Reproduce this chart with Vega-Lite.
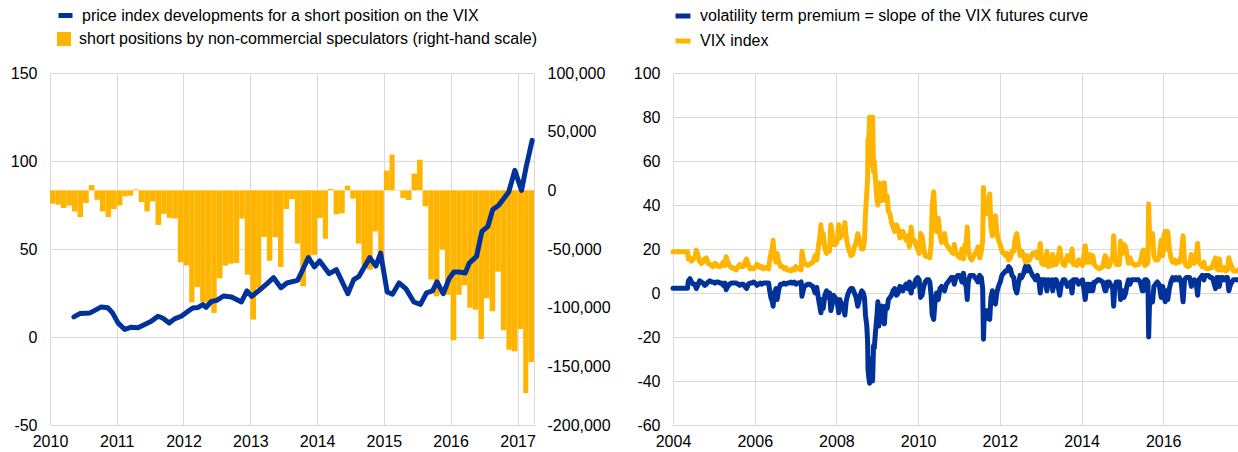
{
  "$schema": "https://vega.github.io/schema/vega-lite/v6.json",
  "background": "white",
  "padding": {"left": 10, "top": 6, "right": 0, "bottom": 0},
  "config": {
    "font": "Liberation Sans",
    "view": {"stroke": null},
    "axis": {"labelFont": "Liberation Sans", "labelFontSize": 16, "labelColor": "#000000", "gridColor": "#d9d9d9", "gridWidth": 1, "domain": false, "ticks": false, "title": null, "labelPadding": 13},
    "legend": {"labelFont": "Liberation Sans", "labelFontSize": 16, "labelColor": "#000000", "title": null, "labelLimit": 800}
  },
  "bounds": "flush",
  "spacing": 139,
  "resolve": {"scale": {"x": "independent", "y": "independent", "stroke": "independent", "fill": "independent"}, "legend": {"stroke": "independent", "fill": "independent"}},
  "hconcat": [
    {
      "width": 484,
      "height": 352,
      "layer": [
        {
          "data": {"values": [
            {"a":"2010-01-01","b":"2010-02-01","s":-11400},{"a":"2010-02-01","b":"2010-03-01","s":-12200},{"a":"2010-03-01","b":"2010-04-01","s":-15000},{"a":"2010-04-01","b":"2010-05-01","s":-13000},{"a":"2010-05-01","b":"2010-06-01","s":-18000},{"a":"2010-06-01","b":"2010-07-01","s":-22700},{"a":"2010-07-01","b":"2010-08-01","s":-10800},{"a":"2010-08-01","b":"2010-09-01","s":4500},{"a":"2010-09-01","b":"2010-10-01","s":-8000},{"a":"2010-10-01","b":"2010-11-01","s":-18000},{"a":"2010-11-01","b":"2010-12-01","s":-22700},{"a":"2010-12-01","b":"2011-01-01","s":-16000},
            {"a":"2011-01-01","b":"2011-02-01","s":-13000},{"a":"2011-02-01","b":"2011-03-01","s":-5100},{"a":"2011-03-01","b":"2011-04-01","s":-4500},{"a":"2011-04-01","b":"2011-05-01","s":800},{"a":"2011-05-01","b":"2011-06-01","s":-10000},{"a":"2011-06-01","b":"2011-07-01","s":-18000},{"a":"2011-07-01","b":"2011-08-01","s":-9400},{"a":"2011-08-01","b":"2011-09-01","s":-29500},{"a":"2011-09-01","b":"2011-10-01","s":-20000},{"a":"2011-10-01","b":"2011-11-01","s":-23500},{"a":"2011-11-01","b":"2011-12-01","s":-24000},{"a":"2011-12-01","b":"2012-01-01","s":-61300},
            {"a":"2012-01-01","b":"2012-02-01","s":-64000},{"a":"2012-02-01","b":"2012-03-01","s":-95400},{"a":"2012-03-01","b":"2012-04-01","s":-82400},{"a":"2012-04-01","b":"2012-05-01","s":-95400},{"a":"2012-05-01","b":"2012-06-01","s":-97000},{"a":"2012-06-01","b":"2012-07-01","s":-104500},{"a":"2012-07-01","b":"2012-08-01","s":-75000},{"a":"2012-08-01","b":"2012-09-01","s":-64200},{"a":"2012-09-01","b":"2012-10-01","s":-62500},{"a":"2012-10-01","b":"2012-11-01","s":-62000},{"a":"2012-11-01","b":"2012-12-01","s":-24100},{"a":"2012-12-01","b":"2013-01-01","s":-71900},
            {"a":"2013-01-01","b":"2013-02-01","s":-110000},{"a":"2013-02-01","b":"2013-03-01","s":-83000},{"a":"2013-03-01","b":"2013-04-01","s":-39800},{"a":"2013-04-01","b":"2013-05-01","s":-60000},{"a":"2013-05-01","b":"2013-06-01","s":-39800},{"a":"2013-06-01","b":"2013-07-01","s":-65300},{"a":"2013-07-01","b":"2013-08-01","s":-15900},{"a":"2013-08-01","b":"2013-09-01","s":-7400},{"a":"2013-09-01","b":"2013-10-01","s":-45400},{"a":"2013-10-01","b":"2013-11-01","s":-81800},{"a":"2013-11-01","b":"2013-12-01","s":-60000},{"a":"2013-12-01","b":"2014-01-01","s":-55000},
            {"a":"2014-01-01","b":"2014-02-01","s":-23600},{"a":"2014-02-01","b":"2014-03-01","s":-41200},{"a":"2014-03-01","b":"2014-04-01","s":1100},{"a":"2014-04-01","b":"2014-05-01","s":-20400},{"a":"2014-05-01","b":"2014-06-01","s":-19600},{"a":"2014-06-01","b":"2014-07-01","s":4000},{"a":"2014-07-01","b":"2014-08-01","s":-7100},{"a":"2014-08-01","b":"2014-09-01","s":-45400},{"a":"2014-09-01","b":"2014-10-01","s":-64700},{"a":"2014-10-01","b":"2014-11-01","s":-67600},{"a":"2014-11-01","b":"2014-12-01","s":-35000},{"a":"2014-12-01","b":"2015-01-01","s":-63000},
            {"a":"2015-01-01","b":"2015-02-01","s":16800},{"a":"2015-02-01","b":"2015-03-01","s":30500},{"a":"2015-03-01","b":"2015-04-01","s":-300},{"a":"2015-04-01","b":"2015-05-01","s":-6500},{"a":"2015-05-01","b":"2015-06-01","s":-8200},{"a":"2015-06-01","b":"2015-07-01","s":14200},{"a":"2015-07-01","b":"2015-08-01","s":26100},{"a":"2015-08-01","b":"2015-09-01","s":-13600},{"a":"2015-09-01","b":"2015-10-01","s":-76000},{"a":"2015-10-01","b":"2015-11-01","s":-90300},{"a":"2015-11-01","b":"2015-12-01","s":-50500},{"a":"2015-12-01","b":"2016-01-01","s":-89000},
            {"a":"2016-01-01","b":"2016-02-01","s":-127800},{"a":"2016-02-01","b":"2016-03-01","s":-89000},{"a":"2016-03-01","b":"2016-04-01","s":-81000},{"a":"2016-04-01","b":"2016-05-01","s":-100000},{"a":"2016-05-01","b":"2016-06-01","s":-101700},{"a":"2016-06-01","b":"2016-07-01","s":-126700},{"a":"2016-07-01","b":"2016-08-01","s":-92000},{"a":"2016-08-01","b":"2016-09-01","s":-103000},{"a":"2016-09-01","b":"2016-10-01","s":-69300},{"a":"2016-10-01","b":"2016-11-01","s":-119300},{"a":"2016-11-01","b":"2016-12-01","s":-135800},{"a":"2016-12-01","b":"2017-01-01","s":-137200},
            {"a":"2017-01-01","b":"2017-02-01","s":-118100},{"a":"2017-02-01","b":"2017-03-01","s":-172700},{"a":"2017-03-01","b":"2017-04-01","s":-146300}
          ]},
          "mark": {"type": "bar", "strokeWidth": 0},
          "encoding": {
            "x": {"field": "a", "type": "temporal", "scale": {"type": "utc", "domain": [{"year": 2010, "month": 1, "date": 1, "utc": true}, {"year": 2017, "month": 4, "date": 1, "utc": true}]}, "axis": {"format": "%Y", "tickCount": {"interval": "year", "step": 1}, "grid": true, "labelPadding": 8, "labelFlush": false}},
            "x2": {"field": "b"},
            "y": {"field": "s", "type": "quantitative", "scale": {"domain": [-200000, 100000], "nice": false, "zero": true}, "axis": {"orient": "right", "values": [-200000, -150000, -100000, -50000, 0, 50000, 100000], "grid": false, "domain": true, "domainColor": "#d9d9d9", "labelExpr": "replace(datum.label, '\u2212', '-')"}},
            "y2": {"datum": 0},
            "fill": {"datum": "short positions by non-commercial speculators (right-hand scale)", "scale": {"range": ["#FFB400"]}, "legend": {"orient": "none", "legendX": 6, "legendY": -42, "direction": "vertical", "symbolType": "square", "symbolSize": 196, "symbolStrokeWidth": 0, "labelOffset": 7}}
          }
        },
        {
          "data": {"values": [
            {"d":"2010-05-12","p":11.4},{"d":"2010-06-13","p":13.3},{"d":"2010-08-08","p":13.7},{"d":"2010-09-01","p":15},{"d":"2010-10-08","p":17.1},{"d":"2010-11-13","p":16.6},{"d":"2010-12-09","p":13.7},
            {"d":"2011-01-08","p":8.0},{"d":"2011-02-14","p":4.3},{"d":"2011-03-22","p":5.6},{"d":"2011-04-27","p":5.2},{"d":"2011-06-03","p":7.1},{"d":"2011-07-09","p":9.0},{"d":"2011-08-14","p":11.8},{"d":"2011-09-09","p":10.8},{"d":"2011-10-15","p":8.0},{"d":"2011-11-13","p":10.3},{"d":"2011-12-20","p":11.8},
            {"d":"2012-01-26","p":14.6},{"d":"2012-02-21","p":16.5},{"d":"2012-03-21","p":16.8},{"d":"2012-04-16","p":18.4},{"d":"2012-05-04","p":16.8},{"d":"2012-06-02","p":20.2},{"d":"2012-07-01","p":20.8},{"d":"2012-08-07","p":23.3},{"d":"2012-09-20","p":22.7},{"d":"2012-11-13","p":19.9},{"d":"2012-12-13","p":26.2},
            {"d":"2013-01-08","p":23.1},{"d":"2013-02-25","p":27.1},{"d":"2013-04-02","p":30.3},{"d":"2013-05-08","p":33.7},{"d":"2013-06-17","p":28.0},{"d":"2013-07-20","p":30.7},{"d":"2013-09-16","p":32.2},{"d":"2013-10-08","p":36.9},{"d":"2013-11-14","p":45.1},{"d":"2013-12-17","p":39.8},
            {"d":"2014-01-15","p":43.2},{"d":"2014-03-08","p":36.0},{"d":"2014-04-16","p":38.3},{"d":"2014-06-18","p":24.6},{"d":"2014-07-20","p":32.6},{"d":"2014-08-18","p":34.5},{"d":"2014-10-16","p":45.1},{"d":"2014-11-18","p":40.3},{"d":"2014-12-14","p":47.7},
            {"d":"2015-01-19","p":25.6},{"d":"2015-02-17","p":24.3},{"d":"2015-03-25","p":30.7},{"d":"2015-05-01","p":27.5},{"d":"2015-06-14","p":19.9},{"d":"2015-07-20","p":18.5},{"d":"2015-08-22","p":25.1},{"d":"2015-09-24","p":26.2},{"d":"2015-10-19","p":31.3},{"d":"2015-11-21","p":24.6},{"d":"2015-12-24","p":33.2},
            {"d":"2016-01-19","p":36.9},{"d":"2016-02-17","p":36.9},{"d":"2016-03-21","p":36.4},{"d":"2016-04-12","p":42.0},{"d":"2016-05-22","p":45.8},{"d":"2016-06-20","p":60.0},{"d":"2016-07-23","p":62.9},{"d":"2016-08-18","p":72.3},{"d":"2016-09-20","p":74.8},{"d":"2016-11-14","p":82.4},{"d":"2016-12-17","p":94.7},
            {"d":"2017-01-23","p":83.3},{"d":"2017-02-17","p":96.6},{"d":"2017-03-22","p":111.7}
          ]},
          "mark": {"type": "line", "strokeWidth": 5, "strokeJoin": "round", "strokeCap": "round"},
          "encoding": {
            "x": {"field": "d", "type": "temporal"},
            "y": {"field": "p", "type": "quantitative", "scale": {"domain": [-50, 150], "nice": false}, "axis": {"orient": "left", "values": [-50, 0, 50, 100, 150], "grid": true, "labelExpr": "replace(datum.label, '\u2212', '-')"}},
            "stroke": {"datum": "price index developments for a short position on the VIX", "scale": {"range": ["#003299"]}, "legend": {"orient": "none", "legendX": 6, "legendY": -67, "direction": "vertical", "symbolType": "stroke", "symbolSize": 196, "symbolStrokeWidth": 5, "labelOffset": 7}}
          }
        }
      ],
      "resolve": {"scale": {"y": "independent"}}
    },
    {
      "width": 565,
      "height": 352,
      "data": {"values": [
        {"d":"2004-01-01","v":18.7,"t":2.2},{"d":"2004-05-10","v":18.7,"t":2.2},{"d":"2004-05-17","v":15.5,"t":5.5},{"d":"2004-06-01","v":16,"t":6.5},{"d":"2004-06-15","v":14.5,"t":5},{"d":"2004-07-01","v":15.5,"t":4},{"d":"2004-07-15","v":16,"t":4},{"d":"2004-07-27","v":19.5,"t":2},{"d":"2004-08-10","v":17.5,"t":3.5},{"d":"2004-08-25","v":14.5,"t":5.5},{"d":"2004-09-10","v":13.5,"t":5},{"d":"2004-09-25","v":14,"t":4.5},{"d":"2004-10-10","v":15.5,"t":3.5},{"d":"2004-10-25","v":16,"t":4},{"d":"2004-11-10","v":13.5,"t":5},{"d":"2004-11-25","v":13,"t":5.5},{"d":"2004-12-10","v":12.5,"t":5},{"d":"2004-12-24","v":12,"t":5},
        {"d":"2005-01-10","v":13.5,"t":4.5},{"d":"2005-01-25","v":13,"t":5},{"d":"2005-02-10","v":12,"t":5},{"d":"2005-02-25","v":12,"t":4.5},{"d":"2005-03-10","v":12.5,"t":4.5},{"d":"2005-03-25","v":14,"t":3.5},{"d":"2005-04-10","v":12.5,"t":4.5},{"d":"2005-04-20","v":16.5,"t":1.5},{"d":"2005-05-05","v":14,"t":3},{"d":"2005-05-20","v":12.5,"t":4},{"d":"2005-06-05","v":11.5,"t":4.5},{"d":"2005-06-20","v":11.5,"t":4.5},{"d":"2005-07-05","v":11,"t":4.5},{"d":"2005-07-20","v":10.5,"t":4.5},{"d":"2005-08-05","v":12,"t":4},{"d":"2005-08-20","v":13,"t":3.5},{"d":"2005-09-05","v":12,"t":4},{"d":"2005-09-20","v":12,"t":4},{"d":"2005-10-05","v":14,"t":3},{"d":"2005-10-20","v":15.5,"t":2},{"d":"2005-11-05","v":12.5,"t":4},{"d":"2005-11-20","v":11,"t":4.5},{"d":"2005-12-05","v":11.5,"t":4.5},{"d":"2005-12-20","v":11,"t":5},
        {"d":"2006-01-05","v":11.5,"t":4.5},{"d":"2006-01-20","v":13,"t":3.5},{"d":"2006-02-05","v":12.5,"t":4},{"d":"2006-02-20","v":11.5,"t":4.5},{"d":"2006-03-05","v":12,"t":4},{"d":"2006-03-20","v":11,"t":4.5},{"d":"2006-04-05","v":11.5,"t":4.5},{"d":"2006-04-20","v":11.5,"t":4.5},{"d":"2006-05-05","v":11,"t":4.5},{"d":"2006-05-15","v":15,"t":1},{"d":"2006-05-25","v":18,"t":-2},{"d":"2006-06-08","v":21,"t":-4},{"d":"2006-06-14","v":24,"t":-6},{"d":"2006-06-25","v":17,"t":0},{"d":"2006-07-10","v":14,"t":2},{"d":"2006-07-20","v":18,"t":-3},{"d":"2006-08-05","v":14,"t":2},{"d":"2006-08-20","v":12,"t":4},{"d":"2006-09-05","v":12,"t":4},{"d":"2006-09-20","v":11,"t":4.5},{"d":"2006-10-05","v":11.5,"t":4},{"d":"2006-10-20","v":10.5,"t":4.5},{"d":"2006-11-05","v":10.5,"t":4.5},{"d":"2006-11-20","v":10,"t":5},{"d":"2006-12-05","v":11,"t":4.5},{"d":"2006-12-20","v":10.5,"t":5},
        {"d":"2007-01-05","v":12,"t":4},{"d":"2007-01-20","v":11,"t":4.5},{"d":"2007-02-05","v":11,"t":4.5},{"d":"2007-02-20","v":10.5,"t":5},{"d":"2007-02-27","v":19,"t":-1.5},{"d":"2007-03-05","v":17,"t":0},{"d":"2007-03-20","v":13.5,"t":3},{"d":"2007-04-05","v":13,"t":3.5},{"d":"2007-04-20","v":12.5,"t":4},{"d":"2007-05-05","v":13,"t":4},{"d":"2007-05-20","v":13.5,"t":3.5},{"d":"2007-06-05","v":14,"t":3},{"d":"2007-06-25","v":17,"t":0},{"d":"2007-07-10","v":15,"t":2.5},{"d":"2007-07-26","v":22,"t":-3},{"d":"2007-08-05","v":25,"t":-6},{"d":"2007-08-16","v":31,"t":-9},{"d":"2007-08-25","v":23,"t":-3},{"d":"2007-09-05","v":27,"t":-7},{"d":"2007-09-20","v":20,"t":-1},{"d":"2007-10-05","v":18,"t":1},{"d":"2007-10-20","v":21,"t":-2},{"d":"2007-11-01","v":19,"t":0},{"d":"2007-11-12","v":31,"t":-8},{"d":"2007-11-25","v":27,"t":-5},{"d":"2007-12-05","v":22,"t":-1},{"d":"2007-12-20","v":22,"t":-2},
        {"d":"2008-01-05","v":23,"t":-3},{"d":"2008-01-14","v":26,"t":-6},{"d":"2008-01-22","v":31,"t":-9},{"d":"2008-02-01","v":25,"t":-3},{"d":"2008-02-15","v":26,"t":-5},{"d":"2008-03-01","v":27,"t":-6},{"d":"2008-03-17","v":32,"t":-10},{"d":"2008-03-28","v":26,"t":-4},{"d":"2008-04-10","v":22,"t":-1},{"d":"2008-04-25","v":19,"t":1},{"d":"2008-05-10","v":17,"t":2},{"d":"2008-05-25","v":17.5,"t":2},{"d":"2008-06-10","v":21,"t":0},{"d":"2008-06-25","v":23,"t":-2},{"d":"2008-07-10","v":27,"t":-6},{"d":"2008-07-20","v":25,"t":-4},{"d":"2008-08-01","v":22,"t":-1},{"d":"2008-08-15","v":20,"t":1},{"d":"2008-08-28","v":20,"t":0},{"d":"2008-09-08","v":24,"t":-2},{"d":"2008-09-17","v":36,"t":-10},{"d":"2008-09-29","v":46,"t":-15},{"d":"2008-10-06","v":52,"t":-22},{"d":"2008-10-10","v":70,"t":-35},{"d":"2008-10-16","v":68,"t":-38},{"d":"2008-10-24","v":80,"t":-41},{"d":"2008-10-31","v":60,"t":-30},{"d":"2008-11-07","v":58,"t":-32},{"d":"2008-11-14","v":62,"t":-36},{"d":"2008-11-20","v":80,"t":-40},{"d":"2008-11-28","v":55,"t":-24},{"d":"2008-12-05","v":60,"t":-25},{"d":"2008-12-15","v":52,"t":-18},{"d":"2008-12-29","v":42,"t":-10},
        {"d":"2009-01-06","v":40,"t":-4},{"d":"2009-01-15","v":50,"t":-15},{"d":"2009-01-27","v":42,"t":-8},{"d":"2009-02-10","v":42,"t":-6},{"d":"2009-02-23","v":50,"t":-12},{"d":"2009-03-05","v":50,"t":-14},{"d":"2009-03-16","v":42,"t":-6},{"d":"2009-03-30","v":44,"t":-7},{"d":"2009-04-10","v":37,"t":-3},{"d":"2009-04-24","v":36,"t":-2},{"d":"2009-05-08","v":32,"t":-1},{"d":"2009-05-22","v":30,"t":1},{"d":"2009-06-05","v":28,"t":2},{"d":"2009-06-22","v":31,"t":-1},{"d":"2009-07-07","v":29,"t":0},{"d":"2009-07-22","v":25,"t":3},{"d":"2009-08-05","v":26,"t":2},{"d":"2009-08-17","v":28,"t":1},{"d":"2009-08-31","v":26,"t":3},{"d":"2009-09-15","v":24,"t":4},{"d":"2009-09-30","v":26,"t":2},{"d":"2009-10-15","v":21,"t":5},{"d":"2009-10-30","v":30,"t":0},{"d":"2009-11-12","v":24,"t":4},{"d":"2009-11-27","v":24,"t":3},{"d":"2009-12-10","v":22,"t":6},{"d":"2009-12-28","v":20,"t":7},
        {"d":"2010-01-10","v":18,"t":6},{"d":"2010-01-22","v":27,"t":-2},{"d":"2010-02-05","v":26,"t":-1},{"d":"2010-02-20","v":20,"t":3},{"d":"2010-03-05","v":17,"t":5},{"d":"2010-03-20","v":16.5,"t":6},{"d":"2010-04-05","v":17,"t":6},{"d":"2010-04-15","v":16,"t":5},{"d":"2010-04-27","v":22,"t":-1},{"d":"2010-05-07","v":40,"t":-10},{"d":"2010-05-20","v":46,"t":-12},{"d":"2010-06-01","v":35,"t":-4},{"d":"2010-06-15","v":28,"t":0},{"d":"2010-06-30","v":34,"t":-3},{"d":"2010-07-15","v":26,"t":2},{"d":"2010-07-30","v":23,"t":3},{"d":"2010-08-12","v":25,"t":2},{"d":"2010-08-25","v":27,"t":1},{"d":"2010-09-10","v":22,"t":4},{"d":"2010-09-25","v":21,"t":5},{"d":"2010-10-10","v":20,"t":6},{"d":"2010-10-25","v":19,"t":7},{"d":"2010-11-10","v":18,"t":7},{"d":"2010-11-20","v":22,"t":4},{"d":"2010-12-05","v":18,"t":7},{"d":"2010-12-20","v":17,"t":8},
        {"d":"2011-01-10","v":16,"t":8},{"d":"2011-01-28","v":20,"t":5},{"d":"2011-02-10","v":15.5,"t":9},{"d":"2011-02-24","v":22,"t":4},{"d":"2011-03-05","v":21,"t":4},{"d":"2011-03-16","v":30,"t":-3},{"d":"2011-03-25","v":20,"t":5},{"d":"2011-04-10","v":16,"t":8},{"d":"2011-04-25","v":15,"t":8},{"d":"2011-05-10","v":16.5,"t":8},{"d":"2011-05-25","v":18,"t":7},{"d":"2011-06-10","v":19,"t":6},{"d":"2011-06-20","v":21,"t":5},{"d":"2011-07-05","v":16,"t":8},{"d":"2011-07-20","v":19,"t":7},{"d":"2011-08-01","v":24,"t":2},{"d":"2011-08-08","v":48,"t":-21},{"d":"2011-08-15","v":37,"t":-10},{"d":"2011-08-25","v":39,"t":-12},{"d":"2011-09-08","v":36,"t":-8},{"d":"2011-09-22","v":42,"t":-10},{"d":"2011-10-03","v":45,"t":-12},{"d":"2011-10-14","v":30,"t":-2},{"d":"2011-10-27","v":26,"t":1},{"d":"2011-11-08","v":34,"t":-4},{"d":"2011-11-23","v":35,"t":-5},{"d":"2011-12-05","v":28,"t":0},{"d":"2011-12-20","v":24,"t":3},
        {"d":"2012-01-05","v":22,"t":5},{"d":"2012-01-20","v":19,"t":8},{"d":"2012-02-05","v":18,"t":9},{"d":"2012-02-20","v":17,"t":10},{"d":"2012-03-05","v":18,"t":10},{"d":"2012-03-20","v":15,"t":12},{"d":"2012-04-05","v":16,"t":11},{"d":"2012-04-20","v":19,"t":8},{"d":"2012-05-05","v":19,"t":7},{"d":"2012-05-18","v":25,"t":2},{"d":"2012-06-01","v":27,"t":0},{"d":"2012-06-15","v":22,"t":4},{"d":"2012-07-01","v":17,"t":8},{"d":"2012-07-15","v":19,"t":7},{"d":"2012-08-01","v":17,"t":9},{"d":"2012-08-17","v":14,"t":12},{"d":"2012-09-01","v":17,"t":10},{"d":"2012-09-15","v":14.5,"t":12},{"d":"2012-10-01","v":16,"t":10},{"d":"2012-10-20","v":18,"t":8},{"d":"2012-11-05","v":18,"t":7},{"d":"2012-11-15","v":18.5,"t":6},{"d":"2012-12-01","v":16,"t":8},{"d":"2012-12-15","v":17,"t":6},{"d":"2012-12-28","v":22.5,"t":0},
        {"d":"2013-01-10","v":13.5,"t":6},{"d":"2013-01-25","v":13,"t":6},{"d":"2013-02-10","v":13,"t":6},{"d":"2013-02-25","v":19,"t":1},{"d":"2013-03-10","v":12,"t":6},{"d":"2013-03-25","v":13.5,"t":5},{"d":"2013-04-10","v":12.5,"t":6},{"d":"2013-04-18","v":17.5,"t":1},{"d":"2013-05-05","v":13,"t":6},{"d":"2013-05-20","v":13,"t":6},{"d":"2013-06-05","v":16,"t":3},{"d":"2013-06-20","v":20.5,"t":-1},{"d":"2013-07-05","v":15,"t":4},{"d":"2013-07-20","v":13,"t":6},{"d":"2013-08-05","v":12.5,"t":6},{"d":"2013-08-27","v":17,"t":3},{"d":"2013-09-10","v":15,"t":4},{"d":"2013-09-25","v":14.5,"t":5},{"d":"2013-10-08","v":20,"t":0},{"d":"2013-10-20","v":13,"t":6},{"d":"2013-11-05","v":13,"t":6},{"d":"2013-11-20","v":12.5,"t":6},{"d":"2013-12-05","v":15,"t":4},{"d":"2013-12-20","v":14,"t":5},
        {"d":"2014-01-10","v":12.5,"t":6},{"d":"2014-01-24","v":18,"t":1},{"d":"2014-02-03","v":21.5,"t":-3},{"d":"2014-02-18","v":14,"t":4},{"d":"2014-03-05","v":14,"t":4},{"d":"2014-03-14","v":17.5,"t":1},{"d":"2014-03-28","v":14,"t":4},{"d":"2014-04-11","v":17,"t":1},{"d":"2014-04-25","v":13,"t":5},{"d":"2014-05-10","v":12,"t":5},{"d":"2014-05-25","v":11.5,"t":6},{"d":"2014-06-10","v":11,"t":6},{"d":"2014-06-25","v":11.5,"t":5.5},{"d":"2014-07-10","v":12,"t":5},{"d":"2014-07-31","v":17,"t":1},{"d":"2014-08-07","v":16.5,"t":1},{"d":"2014-08-20","v":12,"t":5},{"d":"2014-09-05","v":12,"t":5},{"d":"2014-09-25","v":15.5,"t":3},{"d":"2014-10-06","v":16,"t":2},{"d":"2014-10-15","v":26,"t":-6},{"d":"2014-10-25","v":16,"t":2},{"d":"2014-11-07","v":13,"t":5},{"d":"2014-11-20","v":13,"t":5},{"d":"2014-12-05","v":13,"t":5},{"d":"2014-12-16","v":23.5,"t":-3},{"d":"2014-12-30","v":18,"t":1},
        {"d":"2015-01-08","v":19,"t":1},{"d":"2015-01-15","v":22,"t":-2},{"d":"2015-01-30","v":21,"t":0},{"d":"2015-02-10","v":17.5,"t":3},{"d":"2015-02-25","v":13.5,"t":6},{"d":"2015-03-10","v":16,"t":4},{"d":"2015-03-25","v":14,"t":6},{"d":"2015-04-10","v":13,"t":6},{"d":"2015-04-25","v":12.5,"t":6},{"d":"2015-05-10","v":13,"t":6},{"d":"2015-05-25","v":13,"t":6},{"d":"2015-06-10","v":14,"t":5},{"d":"2015-06-29","v":18.5,"t":1},{"d":"2015-07-08","v":19.5,"t":1},{"d":"2015-07-20","v":12.5,"t":6},{"d":"2015-08-05","v":13,"t":6},{"d":"2015-08-18","v":14,"t":5},{"d":"2015-08-24","v":40.5,"t":-20},{"d":"2015-08-31","v":28,"t":-6},{"d":"2015-09-10","v":24,"t":-3},{"d":"2015-09-28","v":27,"t":-4},{"d":"2015-10-10","v":17,"t":3},{"d":"2015-10-25","v":15,"t":4},{"d":"2015-11-10","v":15,"t":5},{"d":"2015-11-25","v":16,"t":4},{"d":"2015-12-14","v":24,"t":-2},{"d":"2015-12-28","v":17,"t":3},
        {"d":"2016-01-08","v":26,"t":-2},{"d":"2016-01-20","v":28,"t":-4},{"d":"2016-02-01","v":20,"t":1},{"d":"2016-02-11","v":28,"t":-3},{"d":"2016-02-25","v":20,"t":2},{"d":"2016-03-10","v":16,"t":5},{"d":"2016-03-25","v":14,"t":7},{"d":"2016-04-10","v":15,"t":6},{"d":"2016-04-25","v":13.5,"t":7},{"d":"2016-05-10","v":14.5,"t":6},{"d":"2016-05-25","v":14,"t":7},{"d":"2016-06-10","v":17,"t":5},{"d":"2016-06-27","v":26,"t":-4},{"d":"2016-07-10","v":14,"t":6},{"d":"2016-07-25","v":12.5,"t":7},{"d":"2016-08-10","v":12,"t":7},{"d":"2016-08-25","v":12.5,"t":7},{"d":"2016-09-09","v":17.5,"t":3},{"d":"2016-09-20","v":15,"t":5},{"d":"2016-10-05","v":13.5,"t":6},{"d":"2016-10-20","v":16,"t":5},{"d":"2016-11-04","v":22.5,"t":-1},{"d":"2016-11-15","v":14,"t":6},{"d":"2016-12-01","v":13,"t":7},{"d":"2016-12-15","v":12,"t":8},{"d":"2016-12-30","v":14,"t":6},
        {"d":"2017-01-10","v":11.5,"t":8},{"d":"2017-01-25","v":11,"t":8},{"d":"2017-02-10","v":11,"t":8},{"d":"2017-02-25","v":11.5,"t":7},{"d":"2017-03-10","v":11.5,"t":7},{"d":"2017-03-22","v":13,"t":6},{"d":"2017-04-13","v":16,"t":2},{"d":"2017-04-25","v":11,"t":7},{"d":"2017-05-10","v":10.5,"t":7},{"d":"2017-05-17","v":15.5,"t":3},{"d":"2017-05-30","v":10.5,"t":7},{"d":"2017-06-15","v":10.5,"t":7},{"d":"2017-06-29","v":11.5,"t":6},{"d":"2017-07-15","v":10,"t":7},{"d":"2017-07-28","v":10.5,"t":7},{"d":"2017-08-10","v":16,"t":1},{"d":"2017-08-20","v":14,"t":3},{"d":"2017-09-05","v":12,"t":5},{"d":"2017-09-20","v":10,"t":6},{"d":"2017-10-05","v":10,"t":6},{"d":"2017-10-20","v":10,"t":6},{"d":"2017-10-31","v":10.5,"t":6}
      ]},
      "layer": [
        {
          "mark": {"type": "line", "strokeWidth": 5, "strokeJoin": "round", "strokeCap": "round"},
          "encoding": {
            "x": {"field": "d", "type": "temporal", "scale": {"type": "utc", "domain": [{"year": 2004, "month": 1, "date": 1, "utc": true}, {"year": 2017, "month": 10, "date": 31, "utc": true}]}, "axis": {"format": "%Y", "tickCount": {"interval": "year", "step": 2}, "grid": true, "labelPadding": 8, "labelFlush": false}},
            "y": {"field": "v", "type": "quantitative", "scale": {"domain": [-60, 100], "nice": false}, "axis": {"values": [-60, -40, -20, 0, 20, 40, 60, 80, 100], "grid": true, "labelExpr": "replace(datum.label, '\u2212', '-')"}},
            "stroke": {"datum": "VIX index", "scale": {"domain": ["volatility term premium = slope of the VIX futures curve", "VIX index"], "range": ["#003299", "#FFB400"]}, "legend": {"orient": "none", "legendX": 0, "legendY": -67, "direction": "vertical", "symbolType": "stroke", "symbolSize": 225, "symbolStrokeWidth": 5, "labelOffset": 7, "rowPadding": 5}}
          }
        },
        {
          "mark": {"type": "line", "strokeWidth": 5, "strokeJoin": "round", "strokeCap": "round"},
          "encoding": {
            "x": {"field": "d", "type": "temporal"},
            "y": {"field": "t", "type": "quantitative"},
            "stroke": {"datum": "volatility term premium = slope of the VIX futures curve"}
          }
        }
      ]
    }
  ]
}
